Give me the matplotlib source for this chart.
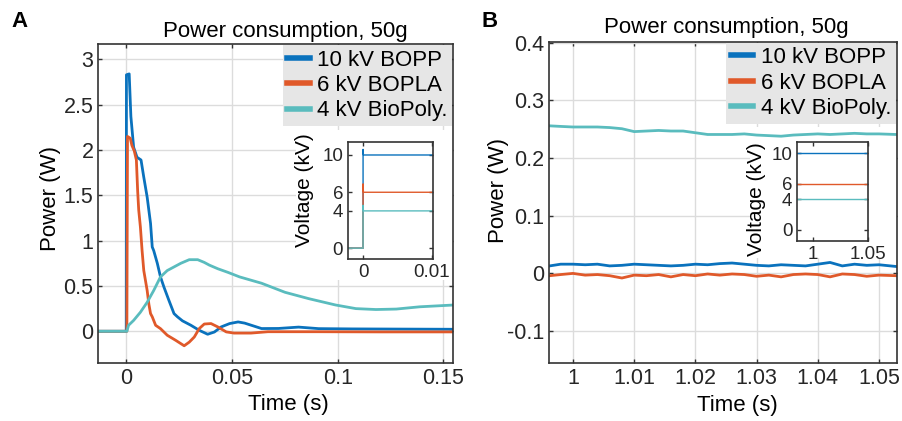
import numpy as np
import matplotlib
matplotlib.use("Agg")
import matplotlib.pyplot as plt
from matplotlib.patches import Rectangle
from matplotlib.ticker import FormatStrFormatter

plt.rcParams['font.family'] = ['Liberation Sans', 'DejaVu Sans']
plt.rcParams['axes.unicode_minus'] = False

labels = ["10 kV BOPP", "6 kV BOPLA", "4 kV BioPoly."]
colors = ["#0a72bd", "#e0592a", "#5abcbe"]

# --- panel A: transient after switch-on (s, W)
t_bopp = [-0.013, 0, 0.0001, 0.0014, 0.0022, 0.0035, 0.0051, 0.0070, 0.0083, 0.0099,
          0.0115, 0.0123, 0.0130, 0.0147, 0.0162, 0.0178, 0.0202, 0.0226, 0.0242, 0.0266,
          0.0306, 0.0345, 0.0385, 0.0417, 0.0449, 0.0489, 0.0529, 0.0560, 0.0600, 0.064,
          0.072, 0.0815, 0.091, 0.107, 0.130, 0.155]
p_bopp = [0, 0, 2.83, 2.84, 2.37, 2.03, 1.92, 1.89, 1.70, 1.48,
          1.19, 0.93, 0.89, 0.75, 0.60, 0.49, 0.34, 0.195, 0.16, 0.115,
          0.066, 0.011, -0.033, -0.008, 0.048, 0.085, 0.103, 0.09, 0.06, 0.03,
          0.031, 0.046, 0.029, 0.026, 0.024, 0.022]

t_bopla = [-0.013, 0.0003, 0.0006, 0.0019, 0.0027, 0.0038, 0.0048, 0.0054, 0.0059, 0.0067,
           0.0075, 0.0083, 0.0091, 0.0099, 0.0107, 0.0115, 0.0123, 0.0139, 0.0162, 0.0194,
           0.0234, 0.0274, 0.0298, 0.0322, 0.0345, 0.0369, 0.0401, 0.0433, 0.0473, 0.051,
           0.059, 0.067, 0.090, 0.120, 0.155]
p_bopla = [0, 0, 2.15, 2.13, 2.05, 1.99, 1.89, 1.55, 1.34, 1.15,
           0.89, 0.67, 0.56, 0.45, 0.30, 0.195, 0.16, 0.066, 0.029, -0.044,
           -0.10, -0.16, -0.12, -0.063, 0.029, 0.08, 0.085, 0.048, -0.007, -0.02,
           -0.02, -0.005, -0.005, -0.007, -0.007]

t_bio = [-0.013, 0.0003, 0.0011, 0.0035, 0.0067, 0.0099, 0.0130, 0.0162, 0.0194, 0.0226,
         0.0258, 0.0298, 0.0338, 0.0369, 0.0393, 0.0433, 0.0481, 0.0536, 0.064, 0.0751,
         0.0863, 0.099, 0.1086, 0.1181, 0.1277, 0.1388, 0.155]
p_bio = [0, 0, 0.066, 0.12, 0.21, 0.32, 0.45, 0.60, 0.67, 0.71,
         0.75, 0.79, 0.79, 0.76, 0.73, 0.69, 0.65, 0.60, 0.53, 0.43,
         0.36, 0.29, 0.25, 0.24, 0.245, 0.27, 0.29]

# voltage step for inset A (s, kV)
tv_step = [-0.003, 0, 0, 0.00005, 0.0102]
v_bopp_step = [0, 0, 10.6, 10, 10]
v_bopla_step = [0, 0, 6.9, 6, 6]
v_bio_step = [0, 0, 4.6, 4, 4]

# --- panel B: steady state (s, W)
t_b = [0.9962, 0.998, 1.000, 1.002, 1.004, 1.006, 1.008, 1.010, 1.012, 1.014,
       1.016, 1.018, 1.020, 1.022, 1.024, 1.026, 1.028, 1.030, 1.032, 1.034,
       1.036, 1.038, 1.040, 1.042, 1.044, 1.046, 1.048, 1.050, 1.0528]
pb_bopp = [0.013, 0.016, 0.016, 0.015, 0.016, 0.013, 0.014, 0.016, 0.015, 0.014,
           0.013, 0.014, 0.016, 0.015, 0.017, 0.018, 0.016, 0.014, 0.013, 0.015,
           0.014, 0.013, 0.016, 0.019, 0.013, 0.016, 0.014, 0.015, 0.012]
pb_bopla = [-0.004, -0.002, 0.000, -0.003, -0.002, -0.004, -0.008, -0.003, -0.004, -0.002,
            -0.006, -0.002, -0.004, -0.001, -0.003, -0.001, -0.002, -0.005, -0.003, -0.006,
            -0.002, -0.001, -0.002, -0.006, -0.001, -0.002, -0.005, -0.003, -0.004]
pb_bio = [0.256, 0.255, 0.254, 0.254, 0.254, 0.253, 0.251, 0.246, 0.247, 0.248,
          0.247, 0.247, 0.244, 0.241, 0.241, 0.241, 0.242, 0.240, 0.239, 0.238,
          0.240, 0.241, 0.242, 0.241, 0.242, 0.243, 0.242, 0.242, 0.241]

tv_flat = [0.9862, 1.0504]
v_levels = [10, 6, 4]

FS = 16
TICK_FS = 15.5
INSET_FS = 13.5
SPINE = "#333333"


def style_axes(ax, fs=TICK_FS):
    ax.set_axisbelow(True)
    ax.grid(True, color="#dcdcdc", lw=1.0)
    for s in ax.spines.values():
        s.set_color(SPINE)
        s.set_linewidth(1.2)
    ax.tick_params(direction="in", length=3, width=1.0, colors=SPINE,
                   labelcolor="#262626", labelsize=fs, top=True, right=True)


def add_legend(ax, handles):
    leg = ax.legend(handles, labels, loc="upper right", bbox_to_anchor=(1.0, 1.0),
                    fontsize=16, frameon=True, fancybox=False,
                    borderaxespad=0.05, borderpad=0.2, labelspacing=0.2,
                    handlelength=1.0, handletextpad=0.35)
    frame = leg.get_frame()
    frame.set_facecolor("#e6e6e6")
    frame.set_edgecolor("none")
    frame.set_alpha(1)
    for h in leg.legend_handles:
        h.set_linewidth(4)
    return leg


fig = plt.figure(figsize=(9.02, 4.21), dpi=100)

# ---------------- panel A
axA = fig.add_axes([0.109, 0.1378, 0.3936, 0.7577])
style_axes(axA)
axA.add_patch(Rectangle((0.557, 0.26), 0.443, 0.47, transform=axA.transAxes,
                        facecolor="white", edgecolor="none", zorder=1))
hA = []
hA += axA.plot(t_bopp, p_bopp, color=colors[0], lw=2.0, zorder=2)
hA += axA.plot(t_bopla, p_bopla, color=colors[1], lw=2.0, zorder=2)
hA += axA.plot(t_bio, p_bio, color=colors[2], lw=2.0, zorder=2)
axA.set_xlim(-0.0132, 0.1547)
axA.set_ylim(-0.35, 3.17)
axA.set_xticks([0, 0.05, 0.1, 0.15])
axA.set_yticks([0, 0.5, 1, 1.5, 2, 2.5, 3])
axA.xaxis.set_major_formatter(FormatStrFormatter("%g"))
axA.yaxis.set_major_formatter(FormatStrFormatter("%g"))
axA.set_xlabel("Time (s)", fontsize=FS)
axA.set_ylabel("Power (W)", fontsize=FS)
axA.xaxis.set_label_coords(0.534, -0.098)
axA.yaxis.set_label_coords(-0.105, 0.517)
axA.text(0.527, 1.023, "Power consumption, 50g", transform=axA.transAxes,
         ha="center", va="baseline", fontsize=FS)
add_legend(axA, hA)

insA = fig.add_axes([0.3858, 0.3840, 0.0942, 0.2795])
style_axes(insA, fs=INSET_FS)
insA.grid(False)
insA.plot(tv_step, v_bopp_step, color=colors[0], lw=1.0)
insA.plot(tv_step, v_bopla_step, color=colors[1], lw=1.0)
insA.plot(tv_step, v_bio_step, color=colors[2], lw=1.0)
insA.set_xlim(-0.0022, 0.0102)
insA.set_ylim(-1.2, 11.43)
insA.set_xticks([0, 0.01])
insA.set_yticks([0, 4, 6, 10])
insA.xaxis.set_major_formatter(FormatStrFormatter("%g"))
insA.set_ylabel("Voltage (kV)", fontsize=15)
insA.yaxis.set_label_coords(-0.40, 0.59)

# ---------------- panel B
axB = fig.add_axes([0.609, 0.137, 0.3852, 0.764])
style_axes(axB)
axB.add_patch(Rectangle((0.578, 0.327), 0.422, 0.408, transform=axB.transAxes,
                        facecolor="white", edgecolor="none", zorder=1))
hB = []
hB += axB.plot(t_b, pb_bopp, color=colors[0], lw=2.0, zorder=2)
hB += axB.plot(t_b, pb_bopla, color=colors[1], lw=2.0, zorder=2)
hB += axB.plot(t_b, pb_bio, color=colors[2], lw=2.0, zorder=2)
axB.set_xlim(0.99614, 1.0529)
axB.set_ylim(-0.156, 0.402)
axB.set_xticks([1, 1.01, 1.02, 1.03, 1.04, 1.05])
axB.set_yticks([-0.1, 0, 0.1, 0.2, 0.3, 0.4])
axB.xaxis.set_major_formatter(FormatStrFormatter("%g"))
axB.yaxis.set_major_formatter(FormatStrFormatter("%g"))
axB.set_xlabel("Time (s)", fontsize=FS)
axB.set_ylabel("Power (W)", fontsize=FS)
axB.xaxis.set_label_coords(0.54, -0.098)
axB.yaxis.set_label_coords(-0.116, 0.536)
axB.text(0.508, 1.026, "Power consumption, 50g", transform=axB.transAxes,
         ha="center", va="baseline", fontsize=FS)
add_legend(axB, hB)

insB = fig.add_axes([0.8839, 0.4283, 0.0787, 0.2337])
style_axes(insB, fs=INSET_FS)
insB.grid(False)
for lvl, c in zip(v_levels, colors):
    insB.plot(tv_flat, [lvl, lvl], color=c, lw=1.0)
insB.set_xlim(0.9862, 1.0504)
insB.set_ylim(-1.4, 11.43)
insB.set_xticks([1, 1.05])
insB.set_yticks([0, 4, 6, 10])
insB.xaxis.set_major_formatter(FormatStrFormatter("%g"))
insB.set_ylabel("Voltage (kV)", fontsize=15)
insB.yaxis.set_label_coords(-0.44, 0.42)

fig.text(0.013, 0.935, "A", fontsize=16, fontweight="bold", ha="left", va="baseline")
fig.text(0.534, 0.935, "B", fontsize=16, fontweight="bold", ha="left", va="baseline")

fig.savefig("out.png", dpi=100)
